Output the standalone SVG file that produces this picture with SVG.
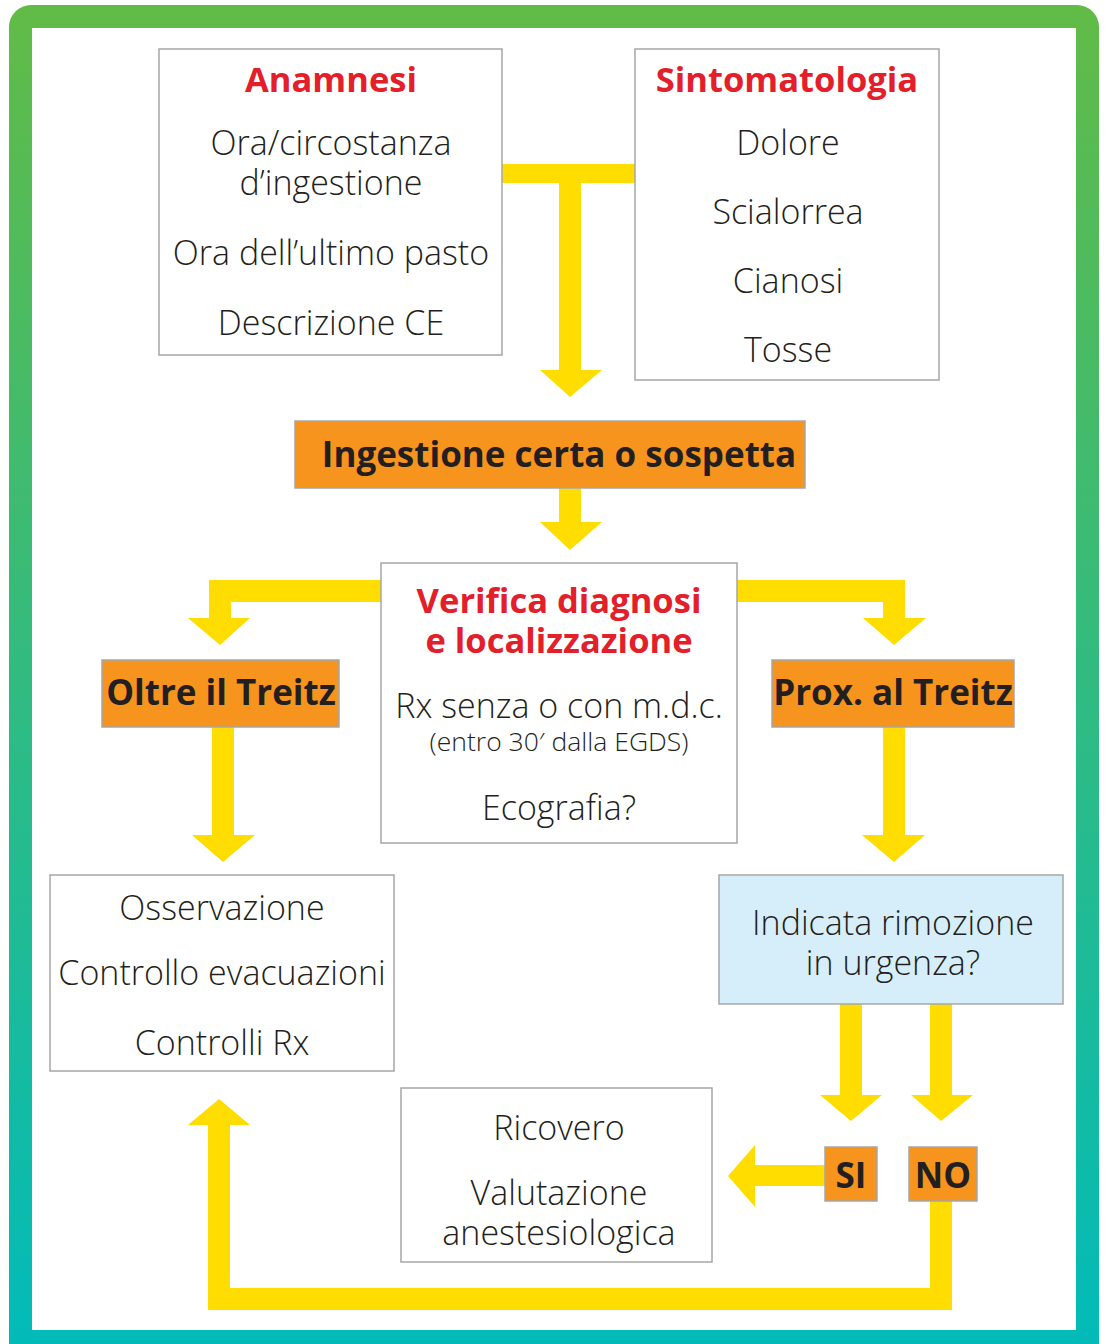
<svg xmlns="http://www.w3.org/2000/svg" width="1106" height="1344" viewBox="0 0 1106 1344">
<defs>
<linearGradient id="frame" x1="0" y1="0" x2="0" y2="1">
<stop offset="0" stop-color="#62BB47"/>
<stop offset="1" stop-color="#00BBBB"/>
</linearGradient>
<style>
.box{fill:#fff;stroke:#a6a6a6;stroke-width:1.5}
.obox{fill:#F7941E;stroke:#a6a6a6;stroke-width:1.5}
.bbox{fill:#D6EEF9;stroke:#a6a6a6;stroke-width:1.5}
.arr{fill:#FFDD00}
.t{font-family:"Open Sans","Liberation Sans",sans-serif;font-weight:300;font-size:34px;fill:#231F20;text-anchor:middle}
.s{font-size:26.5px}
.h{font-family:"Open Sans","Liberation Sans",sans-serif;font-weight:700;font-size:34.5px;fill:#E3202A;text-anchor:middle}
.b{font-family:"Open Sans","Liberation Sans",sans-serif;font-weight:700;font-size:35px;fill:#231F20;text-anchor:middle}
</style>
</defs>
<rect x="9" y="5" width="1090" height="1360" rx="22" fill="url(#frame)"/>
<rect x="32" y="28" width="1044" height="1302" fill="#fff"/>

<g id="connectors">
<path class="arr" d="M502 164H635V183H581V370H602L570 397L540 370H559V183H502Z"/>
<path class="arr" d="M559 488H581V522H602L570 550L540 522H559Z"/>
<path class="arr" d="M381 580V602H231V618H250L220 645L188 618H209V580Z"/>
<path class="arr" d="M737 580V602H883V618H863L894 645L926 618H905V580Z"/>
<path class="arr" d="M212 727H234V835H255L223 862L192 835H212Z"/>
<path class="arr" d="M883 727H905V835H925L894 862L862 835H883Z"/>
<path class="arr" d="M840 1004H862V1095H882L851 1121L820 1095H840Z"/>
<path class="arr" d="M930 1004H952V1095H973L941 1121L911 1095H930Z"/>
<path class="arr" d="M825 1165V1186H755V1207L728 1176L755 1145V1165Z"/>
<path class="arr" d="M930 1201H952V1310H208V1125H188L219 1099L250 1125H230V1288H930Z"/>
</g>

<g id="anamnesi">
<rect class="box" x="159" y="49" width="343" height="306"/>
<text class="h" x="331" y="92">Anamnesi</text>
<text class="t" x="331" y="155">Ora/circostanza</text>
<text class="t" x="331" y="195">d’ingestione</text>
<text class="t" x="331" y="265">Ora dell’ultimo pasto</text>
<text class="t" x="331" y="335">Descrizione CE</text>
</g>

<g id="sintomatologia">
<rect class="box" x="635" y="49" width="304" height="331"/>
<text class="h" x="787" y="92">Sintomatologia</text>
<text class="t" x="788" y="155">Dolore</text>
<text class="t" x="788" y="224">Scialorrea</text>
<text class="t" x="788" y="293">Cianosi</text>
<text class="t" x="788" y="362">Tosse</text>
</g>

<g id="ingestione">
<rect class="obox" x="295" y="421" width="510" height="67"/>
<text class="b" x="559" y="467">Ingestione certa o sospetta</text>
</g>

<g id="verifica">
<rect class="box" x="381" y="563" width="356" height="280"/>
<text class="h" x="559" y="613">Verifica diagnosi</text>
<text class="h" x="559" y="653">e localizzazione</text>
<text class="t" x="559" y="718">Rx senza o con m.d.c.</text>
<text class="t s" x="559" y="751">(entro 30′ dalla EGDS)</text>
<text class="t" x="559" y="820">Ecografia?</text>
</g>

<g id="oltre">
<rect class="obox" x="102" y="660" width="237" height="67"/>
<text class="b" x="221" y="705">Oltre il Treitz</text>
</g>

<g id="prox">
<rect class="obox" x="772" y="660" width="242" height="67"/>
<text class="b" x="893" y="705">Prox. al Treitz</text>
</g>

<g id="osservazione">
<rect class="box" x="50" y="875" width="344" height="196"/>
<text class="t" x="222" y="920">Osservazione</text>
<text class="t" x="222" y="985">Controllo evacuazioni</text>
<text class="t" x="222" y="1055">Controlli Rx</text>
</g>

<g id="indicata">
<rect class="bbox" x="719" y="875" width="344" height="129"/>
<text class="t" x="893" y="935">Indicata rimozione</text>
<text class="t" x="893" y="975">in urgenza?</text>
</g>

<g id="ricovero">
<rect class="box" x="401" y="1088" width="311" height="174"/>
<text class="t" x="559" y="1140">Ricovero</text>
<text class="t" x="559" y="1205">Valutazione</text>
<text class="t" x="559" y="1245">anestesiologica</text>
</g>

<g id="si">
<rect class="obox" x="825" y="1147" width="52" height="54"/>
<text class="b" x="851" y="1188">SI</text>
</g>

<g id="no">
<rect class="obox" x="909" y="1147" width="68" height="54"/>
<text class="b" x="943" y="1188">NO</text>
</g>
</svg>
